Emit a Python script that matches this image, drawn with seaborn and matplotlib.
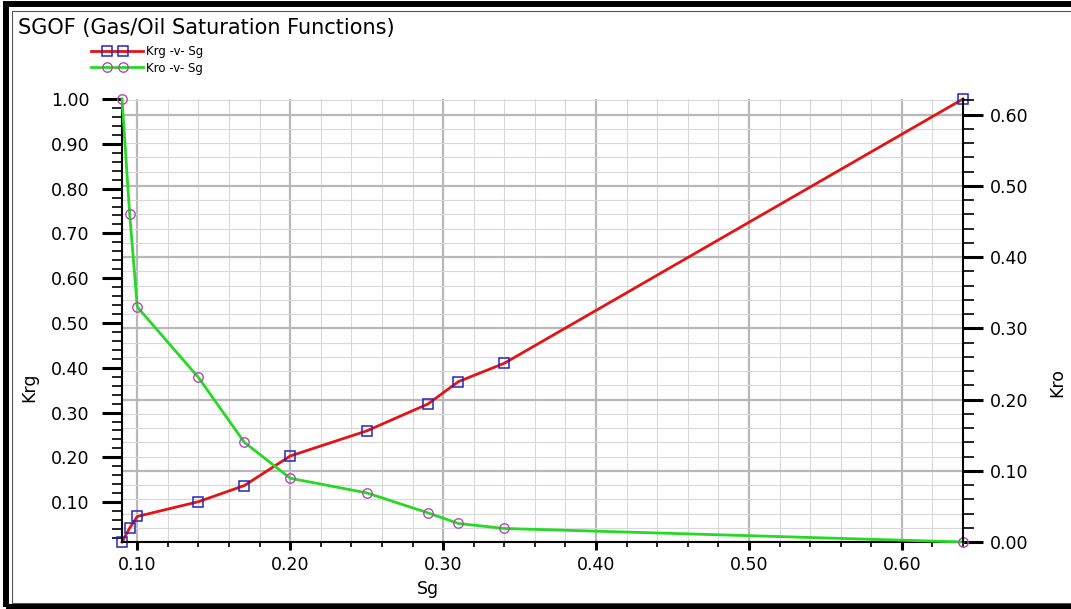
import numpy as np
import matplotlib
matplotlib.use("Agg")
import matplotlib.pyplot as plt
import seaborn as sns
from matplotlib.lines import Line2D
from matplotlib.legend_handler import HandlerLine2D
from matplotlib.patches import Rectangle
from matplotlib.ticker import MultipleLocator, FormatStrFormatter

# SGOF table
sg = [0.09, 0.095, 0.10, 0.14, 0.17, 0.20, 0.25, 0.29, 0.31, 0.34, 0.64]
krg = [0.011, 0.042, 0.068, 0.101, 0.137, 0.203, 0.259, 0.319, 0.369, 0.410, 1.00]
kro = [0.622, 0.461, 0.330, 0.231, 0.140, 0.0895, 0.069, 0.041, 0.026, 0.019, 0.0]

title = "SGOF (Gas/Oil Saturation Functions)"
krg_label = "Krg -v- Sg"
kro_label = "Kro -v- Sg"

W, H = 1071, 609


def fx(px):
    return px / W


def fy(py):
    return 1 - py / H


class PairHandler(HandlerLine2D):
    # line across the whole handle with two markers inside it
    def create_artists(self, legend, orig_handle, xdescent, ydescent,
                       width, height, fontsize, trans):
        xs = -xdescent + width * np.array([0.0, 0.31, 0.62, 1.0])
        ys = np.full_like(xs, (height - ydescent) / 2)
        line = Line2D(xs, ys)
        self.update_prop(line, orig_handle, legend)
        line.set_markevery([1, 2])
        line.set_transform(trans)
        return [line]


fig = plt.figure(figsize=(W / 100, H / 100), dpi=100)
rect = [fx(122), fy(542), fx(963) - fx(122), fy(99) - fy(542)]

# grid axes underneath, both data axes on top of it
gax = fig.add_axes(rect)
ax = fig.add_axes(rect, sharex=gax)
ax2 = ax.twinx()
gax.set_zorder(0)
ax.set_zorder(1)
ax2.set_zorder(2)
ax.patch.set_visible(False)
ax2.patch.set_visible(False)

sns.lineplot(x=sg, y=krg, ax=ax, color="#e31414", linewidth=2.0,
             marker="s", markersize=7.2, markerfacecolor="none",
             markeredgecolor="#2626b8", markeredgewidth=1.1,
             errorbar=None, legend=False, clip_on=False)
sns.lineplot(x=sg, y=kro, ax=ax2, color="#25d925", linewidth=2.0,
             marker="o", markersize=6.8, markerfacecolor="none",
             markeredgecolor="#b648b6", markeredgewidth=1.0,
             errorbar=None, legend=False, clip_on=False)

ax.set_xlim(min(sg), max(sg))
ax.set_ylim(min(krg), max(krg))
ax2.set_ylim(0, max(kro))
gax.set_ylim(ax2.get_ylim())

ax.xaxis.set_major_locator(MultipleLocator(0.1))
ax.xaxis.set_minor_locator(MultipleLocator(0.02))
ax.xaxis.set_major_formatter(FormatStrFormatter("%.2f"))
for a in (ax, ax2, gax):
    a.yaxis.set_major_locator(MultipleLocator(0.1))
    a.yaxis.set_minor_locator(MultipleLocator(0.02))
ax.yaxis.set_major_formatter(FormatStrFormatter("%.2f"))
ax2.yaxis.set_major_formatter(FormatStrFormatter("%.2f"))

# grid
gax.grid(which="major", color="#b8b8b8", linewidth=1.6)
gax.grid(which="minor", color="#d8d8d8", linewidth=0.8)
gax.tick_params(which="both", length=0, labelbottom=False, labelleft=False)
for s in gax.spines.values():
    s.set_visible(False)

# spines
ax.spines["top"].set_visible(False)
ax.spines["right"].set_visible(False)
for s in ("top", "left", "bottom"):
    ax2.spines[s].set_visible(False)
for s in ("left", "bottom"):
    ax.spines[s].set_linewidth(1.5)
ax2.spines["right"].set_linewidth(1.5)

# ticks
ax.tick_params(axis="y", which="major", direction="out", length=14.4,
               width=2.2, pad=9, labelsize=12.5)
ax.tick_params(axis="y", which="minor", direction="out", length=7.2, width=1.2)
ax2.tick_params(axis="y", which="major", direction="out", length=14.4,
                width=2.2, pad=5, labelsize=12.5)
ax2.tick_params(axis="y", which="minor", direction="out", length=8, width=1.2)
ax.tick_params(axis="x", which="major", direction="out", length=6,
               width=2.2, pad=4.3, labelsize=12.5)
ax.tick_params(axis="x", which="minor", direction="out", length=3.6, width=1.2)

# axis labels
ax.set_xlabel("Sg", fontsize=12.5)
ax.xaxis.set_label_coords(0.364, -0.0858)
ax.set_ylabel("Krg", fontsize=12.5)
ax.yaxis.set_label_coords(-0.1, 0.35)
ax2.set_ylabel("Kro", fontsize=12.5)
ax2.yaxis.set_label_coords(1.101, 0.359)

# title and legend
fig.text(fx(18), fy(34), title, fontsize=15, va="baseline", ha="left")
fig.legend(handles=[ax.lines[0], ax2.lines[0]], labels=[krg_label, kro_label],
           loc="upper left", bbox_to_anchor=(fx(91), fy(45)), frameon=False,
           fontsize=8.5, handlelength=4.4, handletextpad=0.25,
           labelspacing=0.3, borderpad=0, borderaxespad=0,
           handler_map={Line2D: PairHandler()})

# window frame
fig.add_artist(Rectangle((fx(6), fy(607)), fx(1090) - fx(6), fy(4) - fy(607),
                         transform=fig.transFigure, fill=False,
                         edgecolor="black", linewidth=4.3))
fig.add_artist(Rectangle((fx(12), fy(602.5)), fx(1090) - fx(12),
                         fy(10.5) - fy(602.5), transform=fig.transFigure,
                         fill=False, edgecolor="#555555", linewidth=0.8))

fig.savefig("out.png", dpi=100)
